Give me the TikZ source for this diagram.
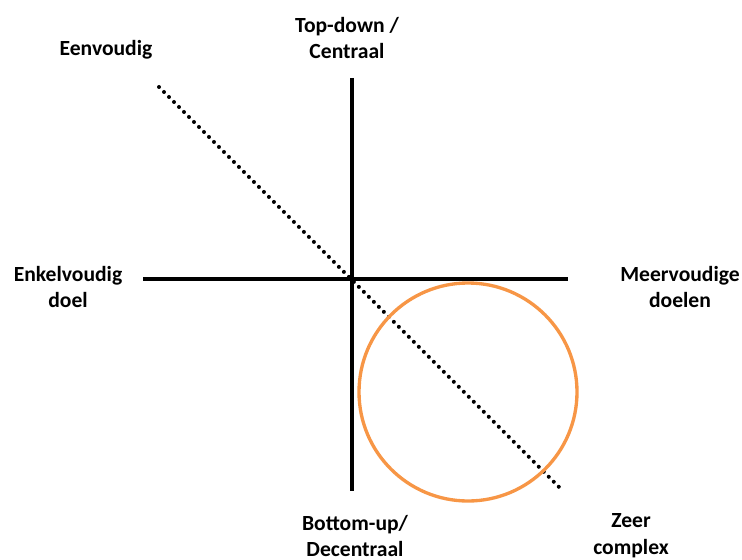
\documentclass[tikz,border=0pt]{standalone}
\usepackage{fontspec}
\setmainfont{Carlito}
\definecolor{circorange}{HTML}{F79646}
\begin{document}
\begin{tikzpicture}[x=0.75pt,y=-0.75pt,
  lbl/.style={font=\bfseries\fontsize{16.2}{20}\selectfont, align=center, inner sep=0pt},
  axis/.style={line width=3pt},
  diag/.style={line width=3pt, line cap=round, dash pattern=on 0pt off 5.3pt},
  ring/.style={draw=circorange, line width=2.5pt}]
\useasboundingbox (0,0) rectangle (742,560);
% axis ends
\coordinate (vtop) at (352,78);
\coordinate (vbot) at (352,491);
\coordinate (hl) at (143,279);
\coordinate (hr) at (568,279);
\coordinate (dstart) at (159,87);
\coordinate (dend) at (562,490);
\draw[axis] (vtop) -- (vbot);
\draw[axis] (hl) -- (hr);
\draw[diag] (dstart) -- (dend);
\draw[ring] (468,392) circle (109);
% labels
\node[lbl] (eenv) at (106,50) {Eenvoudig};
\node[lbl] (top) at (347,38) {Top-down /\\Centraal};
\node[lbl] (enk) at (68,287) {Enkelvoudig\\doel};
\node[lbl] (meer) at (680,287) {Meervoudige\\doelen};
\node[lbl] (bot) at (355,536) {Bottom-up/\\Decentraal};
\node[lbl] (zeer) at (631,536) {Zeer\\complex};
\end{tikzpicture}
\end{document}
